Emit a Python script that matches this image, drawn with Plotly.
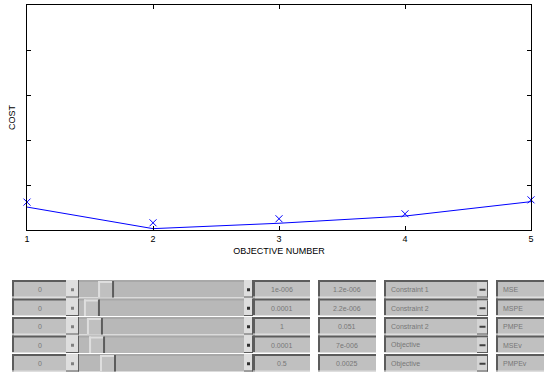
import plotly.graph_objects as go

# ---- data ----
objective_number = [1, 2, 3, 4, 5]
cost_marker = [0.62, 0.16, 0.25, 0.36, 0.67]
cost_line = [0.51, 0.03, 0.15, 0.31, 0.63]

col_min = ["0", "0", "0", "0", "0"]
slider_frac = [0.127, 0.033, 0.053, 0.067, 0.14]
col_weight = ["1e-006", "0.0001", "1", "0.0001", "0.5"]
col_value = ["1.2e-006", "2.2e-006", "0.051", "7e-006", "0.0025"]
col_type = ["Constraint 1", "Constraint 2", "Constraint 2", "Objective", "Objective"]
col_name = ["MSE", "MSPE", "PMPE", "MSEv", "PMPEv"]

W, H = 544, 372
L, R, T, B = 27, 531, 5, 230

def px(x):
    return (x - L) / (R - L)

def py(y):
    return (B - y) / (B - T)

fig = go.Figure()
fig.add_trace(go.Scatter(x=objective_number, y=cost_line, mode="lines",
                         line=dict(color="#0000ff", width=1), showlegend=False,
                         hoverinfo="skip"))
fig.add_trace(go.Scatter(x=objective_number, y=cost_marker, mode="markers",
                         marker=dict(symbol="x-thin", size=7, color="#0000ff",
                                     line=dict(color="#0000ff", width=1)),
                         showlegend=False, cliponaxis=False))

shapes = []
annotations = []

def rect(x0, y0, x1, y1, color):
    shapes.append(dict(type="rect", xref="paper", yref="paper",
                       x0=px(x0), x1=px(x1), y0=py(y1), y1=py(y0),
                       fillcolor=color, line=dict(width=0), layer="above"))

def text(x, y, s, align="center"):
    annotations.append(dict(xref="paper", yref="paper", x=px(x), y=py(y), text=s,
                            showarrow=False, xanchor=align, yanchor="middle",
                            font=dict(family="Liberation Sans, Arial", size=7, color="#777777")))

BG = "#c0c0c0"
DARK = "#5c5c5c"
LIGHT = "#dedede"
TROUGH = "#b8b8b8"

def sunken(x0, y0, x1, y1):
    rect(x0, y0, x1, y1, BG)
    rect(x0, y0, x1, y0 + 2, DARK)
    rect(x0, y0, x0 + 2, y1, DARK)
    rect(x0, y1 - 1, x1, y1, LIGHT)

def raised(x0, y0, x1, y1, color=LIGHT):
    rect(x0, y0, x1, y1, color)
    rect(x1 - 1, y0, x1, y1, DARK)
    rect(x0, y1 - 1, x1, y1, DARK)

for i in range(5):
    y0 = 280 + 18.5 * i
    y1 = y0 + 17.5
    ym = (y0 + y1) / 2 + 1
    # min edit box
    sunken(12, y0, 66, y1)
    text(40, ym, col_min[i])
    # slider
    rect(66, y0, 253, y1, TROUGH)
    rect(79, y0, 244, y0 + 2, "#a8a8a8")
    raised(66, y0, 79, y1)
    rect(71, ym - 1.5, 74, ym + 1.5, "#808080")
    raised(244, y0, 253, y1)
    rect(247, ym - 1.5, 250, ym + 1.5, "#303030")
    tx = 79 + slider_frac[i] * 150
    rect(tx, y0 + 1, tx + 15, y1, BG)
    rect(tx, y0 + 1, tx + 2, y1, LIGHT)
    rect(tx, y0 + 1, tx + 15, y0 + 3, LIGHT)
    rect(tx + 14, y0 + 1, tx + 16, y1, DARK)
    # weight box
    sunken(253, y0, 310, y1)
    text(282, ym, col_weight[i])
    # value box
    sunken(318, y0, 376, y1)
    text(347, ym, col_value[i])
    # popup
    sunken(384, y0, 488, y1)
    raised(477, y0 + 2, 488, y1, "#d4d4d4")
    rect(479.5, ym - 1, 485.5, ym + 1, "#404040")
    text(389, ym, col_type[i], align="left")
    # name box
    sunken(496, y0, 544, y1)
    text(501, ym, col_name[i], align="left")

fig.update_layout(
    width=W, height=H,
    margin=dict(l=L, r=W - R, t=T, b=H - B, autoexpand=False),
    paper_bgcolor="white", plot_bgcolor="white",
    shapes=shapes, annotations=annotations,
    font=dict(family="Liberation Sans, Arial", size=9, color="black"),
    xaxis=dict(range=[1, 5], tickvals=objective_number, ticks="inside", ticklen=4,
               tickcolor="black", showgrid=False, zeroline=False, showline=True,
               linecolor="black", linewidth=1, mirror="ticks",
               title=dict(text="OBJECTIVE NUMBER", standoff=4, font=dict(size=9)),
               tickfont=dict(size=9), automargin=False),
    yaxis=dict(range=[0, 5], tickvals=[1, 2, 3, 4], ticks="inside", ticklen=4,
               tickcolor="black", showticklabels=False, showgrid=False, zeroline=False,
               showline=True, linecolor="black", linewidth=1, mirror="ticks",
               title=dict(text="COST", standoff=8, font=dict(size=9)), automargin=False),
)

fig.write_html("out.html", config={"displayModeBar": False},
               post_script="document.body.style.margin='0';document.body.style.overflow='hidden';")
